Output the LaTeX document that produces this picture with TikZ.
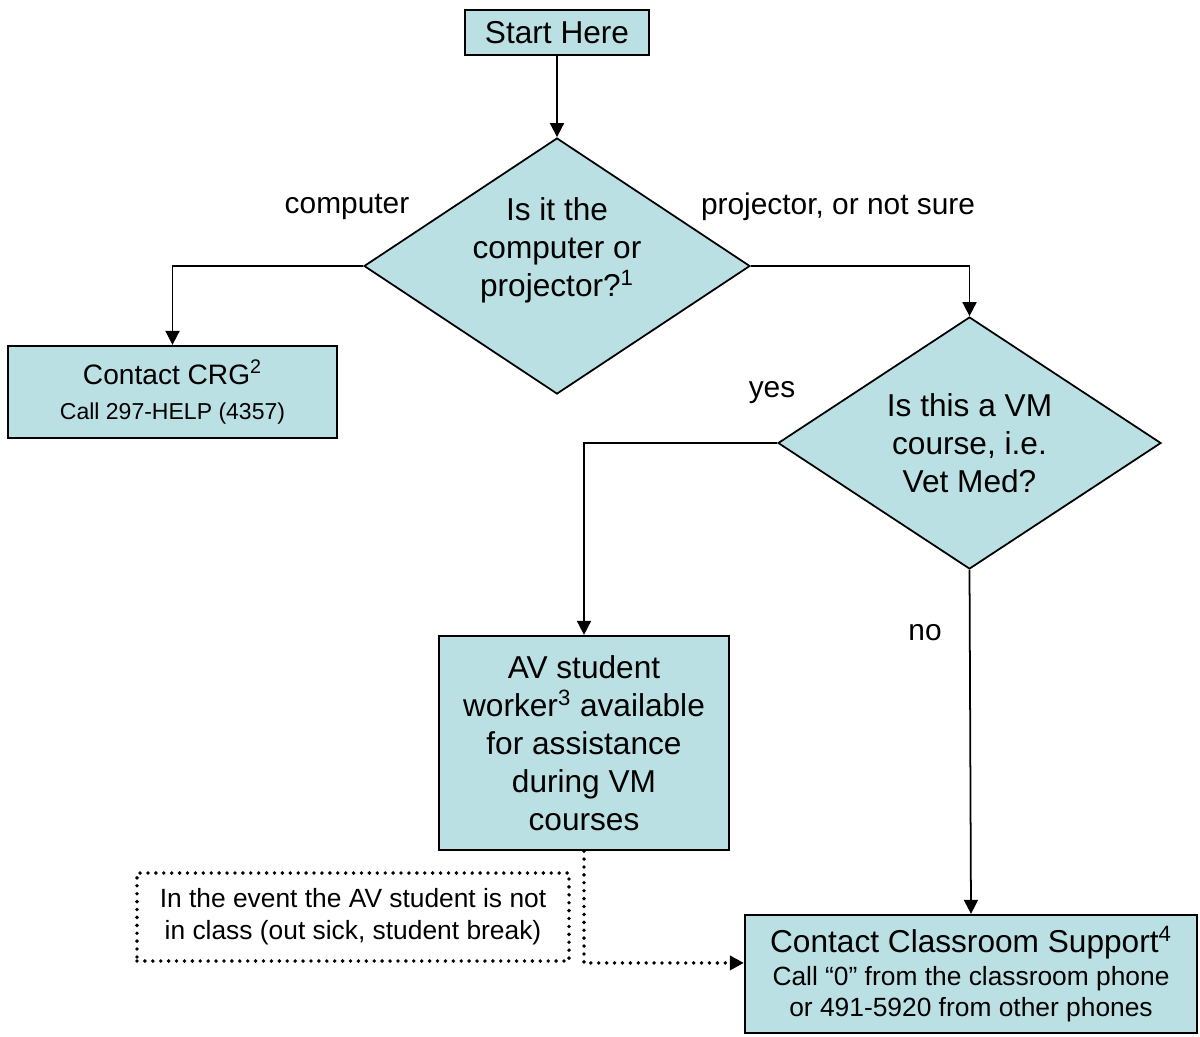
\documentclass[tikz,border=0pt]{standalone}
\usepackage{fontspec}
\setmainfont{Liberation Sans}
\usetikzlibrary{shapes.geometric, arrows.meta, positioning, calc}
\definecolor{paleteal}{RGB}{186, 224, 227}
\newcommand{\bigfont}{\fontsize{18pt}{21.6pt}\selectfont}
\newcommand{\callfont}{\fontsize{15pt}{17.6pt}\selectfont}
\newcommand{\crgfont}{\fontsize{13.1pt}{19.8pt}\selectfont}

\begin{document}
\begin{tikzpicture}[
        font=\bigfont,
        stepbox/.style={
            rectangle,
            draw=black,
            line width=1.3pt,
            fill=paleteal,
            align=center,
            inner sep=2pt
        },
        question/.style={
            diamond,
            aspect=1.5,
            draw=black,
            line width=1pt,
            fill=paleteal,
            align=center,
            inner sep=-0.4cm
        },
        flow/.style={
            -{Triangle[width=8pt, length=8pt]},
            line width=1pt
        },
        backup/.style={
            -{Triangle[width=8pt, length=8pt]},
            line width=2.2pt,
            line cap=round,
            dash pattern=on 0pt off 4.5pt
        },
        notebox/.style={
            rectangle,
            draw=black,
            line width=2.2pt,
            line cap=round,
            dash pattern=on 0pt off 4.5pt,
            align=center,
            font=\fontsize{15pt}{18.1pt}\selectfont
        },
        choice/.style={
            align=center,
            font=\fontsize{17pt}{20pt}\selectfont
        }
    ]
        \useasboundingbox (0,0) rectangle (24,-20.72);

        \node[stepbox, minimum width=3.68cm, minimum height=0.9cm] (start) at (11.14,-0.65) {Start Here};
        \node[question, minimum width=7.72cm, minimum height=5.12cm] (q1) at (11.14,-5.32)
            {Is it the\\computer or\\projector?\textsuperscript{1}\\\mbox{}};
        \node[stepbox, minimum width=6.58cm, minimum height=1.84cm, font=\crgfont] (crg) at (3.45,-7.84)
            {{\fontsize{16pt}{19.8pt}\selectfont Contact CRG\textsuperscript{2}}\\Call 297-HELP (4357)};
        \node[question, minimum width=7.66cm, minimum height=5.04cm] (q2) at (19.39,-8.86)
            {Is this a VM\\course, i.e.\\Vet Med?};
        \node[stepbox, minimum width=5.8cm, minimum height=4.28cm] (av) at (11.68,-14.86)
            {AV student\\worker\textsuperscript{3} available\\for assistance\\during VM\\courses};
        \node[stepbox, minimum width=9.04cm, minimum height=2.36cm, font=\callfont] (classroom) at (19.42,-19.48)
            {{\bigfont Contact Classroom Support\textsuperscript{4}}\\[1pt]Call “0” from the classroom phone\\or 491-5920 from other phones};
        \node[notebox, minimum width=8.64cm, minimum height=1.76cm] (note) at (7.06,-18.34)
            {In the event the AV student is not\\in class (out sick, student break)};

        \node[choice] (computer) at (6.94,-4.14) {computer};
        \node[choice] (projector) at (16.76,-4.14) {projector, or not sure};
        \node[choice] (yes) at (15.44,-7.86) {yes};
        \node[choice] (no) at (18.5,-12.66) {no};

        \draw[flow] (start) -- (q1);
        \draw[flow] (q1.west) -| (crg.north);
        \draw[flow] (q1.east) -| (q2.north);
        \draw[flow] (q2.west) -| (av.north);
        \draw[flow] (q2.south) -- (classroom.north);
        \draw[backup] (av.south) |- (classroom.west |- note.south);
    \end{tikzpicture}
\end{document}
